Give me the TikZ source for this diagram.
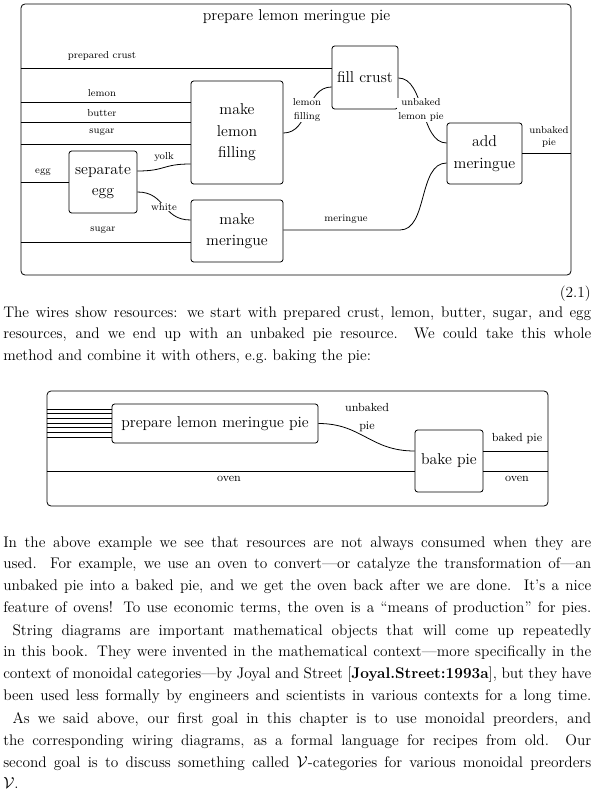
\documentclass[tikz,border=0pt]{standalone}
\usetikzlibrary{calc}
\newcommand\JLine[1]{\makebox[441pt][s]{\spaceskip=0pt\xspaceskip=0pt #1}}
\begin{document}
\begin{tikzpicture}[x=0.75pt,y=-0.75pt,
  wire/.style={line width=0.6pt},
  frame/.style={draw, line width=0.6pt, rounded corners=3pt, inner sep=0pt},
  procbox/.style={draw, line width=0.6pt, rounded corners=2pt, align=center, inner sep=0pt, font=\fontsize{11.8}{16.1}\selectfont},
  wlab/.style={font=\fontsize{7.6}{10.5}\selectfont, inner sep=0.6pt, align=center},
  wlabb/.style={font=\fontsize{8.8}{13.5}\selectfont, inner sep=0.6pt, align=center},
  para/.style={anchor=north west, inner sep=0pt, text width=441pt, align=left, font=\fontsize{11.5}{16.25}\selectfont},
]
\useasboundingbox (0,0) rectangle (594,802);

% ---------- diagram 1 ----------
\node[frame, minimum width=412.5pt, minimum height=203.25pt] (outerA) at (296,139.5) {};
\node[font=\fontsize{11.8}{14}\selectfont, inner sep=0pt] (titleA) at (296.5,17) {prepare lemon meringue pie};

\node[procbox, minimum width=69pt, minimum height=77.25pt] (mlf) at (237,132.5) {make\\lemon\\filling};
\node[procbox, minimum width=51pt, minimum height=46.5pt] (sep) at (103,182) {separate\\egg};
\node[procbox, minimum width=69pt, minimum height=46.5pt] (mm) at (237,231) {make\\meringue};
\node[procbox, minimum width=49.5pt, minimum height=47.25pt] (fc) at (365,77.5) {fill crust};
\node[procbox, minimum width=56.25pt, minimum height=45.75pt] (am) at (484.5,153.5) {add\\meringue};

\draw[wire] (outerA.west |- 0,68) -- (fc.west |- 0,68);
\draw[wire] (outerA.west |- 0,102) -- (mlf.west |- 0,102);
\draw[wire] (outerA.west |- 0,122) -- (mlf.west |- 0,122);
\draw[wire] (outerA.west |- 0,144) -- (mlf.west |- 0,144);
\draw[wire] (outerA.west |- 0,182) -- (sep.west |- 0,182);
\draw[wire] (outerA.west |- 0,242) -- (mm.west |- 0,242);
\draw[wire] (sep.east |- 0,171) .. controls (166,171) and (162,164) .. (mlf.west |- 0,164);
\draw[wire] (sep.east |- 0,192) .. controls (166,192) and (162,220) .. (mm.west |- 0,220);
\draw[wire] (mlf.east |- 0,133) .. controls (310,133) and (305,87) .. (fc.west |- 0,87);
\draw[wire] (fc.east |- 0,78) .. controls (425,78) and (420,143) .. (am.west |- 0,143);
\draw[wire] (mm.east |- 0,230) -- (400,230) .. controls (428,230) and (418,163) .. (am.west |- 0,163);
\draw[wire] (am.east |- 0,153) -- (outerA.east |- 0,153);

\node[wlab] (lcrust) at (102,56) {prepared crust};
\node[wlab] (llemon) at (102,93) {lemon};
\node[wlab] (lbutter) at (102,113) {butter};
\node[wlab] (lsugar) at (102,132) {sugar};
\node[wlab] (legg) at (43,172) {egg};
\node[wlab] (lsugarb) at (103,230) {sugar};
\node[wlab] (lyolk) at (164,157) {yolk};
\node[wlab, fill=white] (lwhite) at (164,207) {white};
\node[wlab, fill=white] (lfill) at (307,110) {lemon\\filling};
\node[wlab, fill=white] (lulp) at (421,110) {unbaked\\lemon pie};
\node[wlab] (lmer) at (346,219) {meringue};
\node[wlab, font=\fontsize{7.6}{9.2}\selectfont] (lup) at (549,137) {unbaked\\pie};

\node[anchor=base east, inner sep=0pt, font=\fontsize{11.5}{14}\selectfont] (eqn) at (591,297) {(2.1)};

% ---------- paragraph 1 ----------
\node[para] (p1) at (3,301.8) {\strut\JLine{The wires show resources: we start with prepared crust, lemon, butter, sugar, and egg}\\
\JLine{resources, and we end up with an unbaked pie resource.\ \ We could take this whole}\\
method and combine it with others, e.g.\ baking the pie:};

% ---------- diagram 2 ----------
\node[frame, minimum width=375.75pt, minimum height=86.25pt] (outerB) at (297.5,448.5) {};
\node[procbox, minimum width=154.5pt, minimum height=29.25pt] (prep) at (215,423.5) {prepare lemon meringue pie};
\node[procbox, minimum width=51pt, minimum height=46.5pt] (bake) at (449,461) {bake pie};

\foreach \k in {0,...,6} {
  \pgfmathsetmacro\yy{409+4.67*\k}
  \draw[wire] (outerB.west |- 0,\yy) -- (prep.west |- 0,\yy);
}
\draw[wire] (prep.east) .. controls (362,423.5) and (370,451) .. (bake.west |- 0,451);
\draw[wire] (bake.east |- 0,451) -- (outerB.east |- 0,451);
\draw[wire] (outerB.west |- 0,471) -- (bake.west |- 0,471);
\draw[wire] (bake.east |- 0,471) -- (outerB.east |- 0,471);

\node[wlabb] (lunb) at (367,418) {unbaked\\pie};
\node[wlabb] (loven) at (229,479) {oven};
\node[wlabb] (lbaked) at (517,439) {baked pie};
\node[wlabb] (lovenb) at (517,479) {oven};

% ---------- paragraphs 2-4 ----------
\node[para] (p2) at (3,531.8) {\strut\JLine{In the above example we see that resources are not always consumed when they are}\\
\JLine{used.\ \ For example, we use an oven to convert---or catalyze the transformation of---an}\\
\JLine{unbaked pie into a baked pie, and we get the oven back after we are done.\ \ It's a nice}\\
\JLine{feature of ovens! To use economic terms, the oven is a ``means of production'' for pies.}};

\node[para] (p3) at (3,619.8) {\strut\JLine{\hspace*{7pt}String diagrams are important mathematical objects that will come up repeatedly}\\
\JLine{in this book. They were invented in the mathematical context---more specifically in the}\\
\JLine{context of monoidal categories---by Joyal and Street [\textbf{Joyal.Street:1993a}], but they have}\\
\JLine{been used less formally by engineers and scientists in various contexts for a long time.}};

\node[para] (p4) at (3,708.3) {\strut\JLine{\hspace*{7pt}As we said above, our first goal in this chapter is to use monoidal preorders, and}\\
\JLine{the corresponding wiring diagrams, as a formal language for recipes from old.\ \ Our}\\
\JLine{second goal is to discuss something called $\mathcal{V}$-categories for various monoidal preorders}\\
$\mathcal{V}$.};
\end{tikzpicture}
\end{document}
